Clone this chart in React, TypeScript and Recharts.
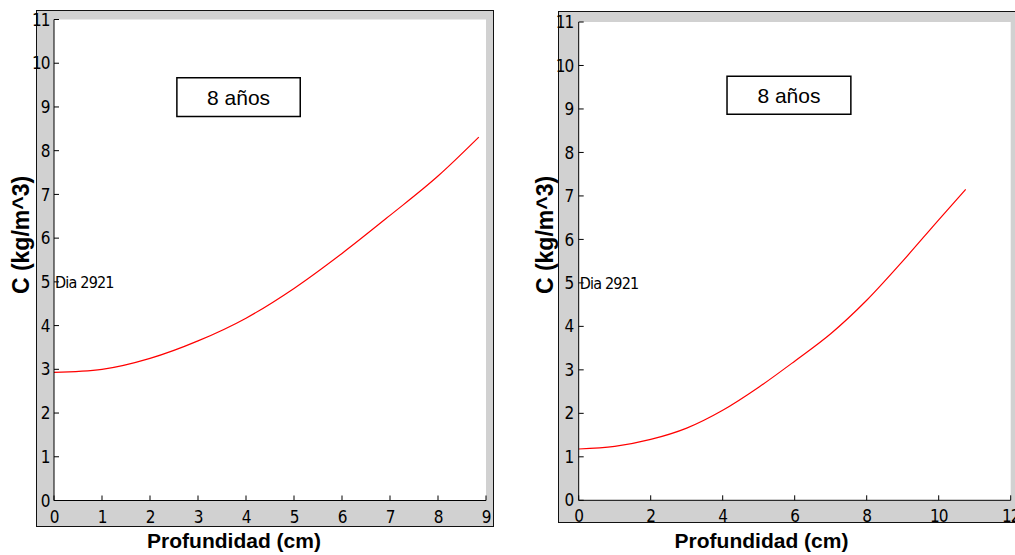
import { LineChart, Line, XAxis, YAxis, CartesianGrid, ReferenceArea, ReferenceDot } from 'recharts';

// depth (cm) and concentration (kg/m^3)
const leftDepth = [0, 1, 2, 3, 4, 5, 6, 7, 8, 8.85];
const leftConc = [2.93, 3.0, 3.25, 3.65, 4.17, 4.85, 5.65, 6.52, 7.42, 8.31];
const rightDepth = [0, 1, 2, 3, 4, 5, 6, 7, 8, 9, 10, 10.75];
const rightConc = [1.18, 1.24, 1.4, 1.66, 2.07, 2.6, 3.2, 3.83, 4.6, 5.5, 6.45, 7.15];

const leftXTicks = [0, 1, 2, 3, 4, 5, 6, 7, 8, 9];
const rightXTicks = [0, 2, 4, 6, 8, 10, 12];
const yTicks = [0, 1, 2, 3, 4, 5, 6, 7, 8, 9, 10, 11];

const boxLabel = '8 años';
const dayLabel = 'Dia 2921';
const xTitle = 'Profundidad (cm)';
const yTitle = 'C (kg/m^3)';

const tickFont = "'Liberation Sans Narrow', 'Arial Narrow', 'DejaVu Sans Condensed', sans-serif";
const textFont = "'Liberation Sans', Arial, sans-serif";

const toRows = (xs: number[], ys: number[]) => xs.map((x, i) => ({ x, c: ys[i] }));

const BottomTick = (props: any) => {
  const { x, y, payload } = props;
  return (
    <g>
      <line x1={x} x2={x} y1={y} y2={y - 5} stroke='#000' />
      <text x={x} y={y + 22} textAnchor='middle' fontSize={17} letterSpacing={-1} fontFamily={tickFont} fill='#000'>
        {payload.value}
      </text>
    </g>
  );
};

const LeftTick = (props: any) => {
  const { x, y, payload, gap } = props;
  return (
    <g>
      <line x1={x} x2={x + 5} y1={y} y2={y} stroke='#000' />
      <text x={x - gap} y={y} dy='0.36em' textAnchor='end' fontSize={17} letterSpacing={-1} fontFamily={tickFont} fill='#000'>
        {payload.value}
      </text>
    </g>
  );
};

const XTitle = (props: any) => (
  <text x={props.cx} y={props.baseline} textAnchor='middle' fontSize={21} fontWeight='bold' fontFamily={textFont} fill='#000'>
    {xTitle}
  </text>
);

const YTitle = (props: any) => (
  <text
    x={props.cx}
    y={props.cy}
    transform={`rotate(-90, ${props.cx}, ${props.cy})`}
    textAnchor='middle'
    dominantBaseline='central'
    fontSize={23}
    fontWeight='bold'
    fontFamily={textFont}
    fill='#000'
  >
    {yTitle}
  </text>
);

type PanelProps = {
  left: number;
  width: number;
  rows: { x: number; c: number }[];
  xMax: number;
  xTicks: number[];
  margin: { top: number; right: number };
  yAxisWidth: number;
  xAxisHeight: number;
  gap: number;
  frame: { left: number; top: number; width: number; height: number };
  box: { x1: number; x2: number; y1: number; y2: number };
  yTitleX: number;
  xTitleX: number;
};

const Panel = (p: PanelProps) => (
  <div style={{ position: 'absolute', left: p.left, top: 0, width: p.width, height: 555 }}>
    <div
      style={{
        position: 'absolute',
        left: p.frame.left,
        top: p.frame.top,
        width: p.frame.width,
        height: p.frame.height,
        background: '#d1d1d1',
        border: '1.5px solid #111',
        boxSizing: 'border-box',
      }}
    />
    <div style={{ position: 'absolute', left: 0, top: 0 }}>
      <LineChart width={p.width} height={555} data={p.rows} margin={{ top: p.margin.top, right: p.margin.right, bottom: 0, left: 0 }}>
        <CartesianGrid fill='#fff' horizontal={false} vertical={false} />
        <XAxis
          dataKey='x'
          type='number'
          domain={[0, p.xMax]}
          ticks={p.xTicks}
          interval={0}
          allowDataOverflow
          height={p.xAxisHeight}
          tickSize={0}
          tickMargin={0}
          tickLine={false}
          axisLine={{ stroke: '#000' }}
          tick={<BottomTick />}
          label={<XTitle cx={p.xTitleX} baseline={548} />}
        />
        <XAxis
          xAxisId='top'
          orientation='top'
          mirror
          type='number'
          domain={[0, p.xMax]}
          ticks={p.xTicks}
          interval={0}
          allowDataOverflow
          height={0}
          tickSize={5}
          tick={false}
          tickLine={{ stroke: '#000' }}
          axisLine={{ stroke: '#000' }}
        />
        <YAxis
          type='number'
          domain={[0, 11]}
          ticks={yTicks}
          interval={0}
          allowDataOverflow
          width={p.yAxisWidth}
          tickSize={0}
          tickMargin={0}
          tickLine={false}
          axisLine={{ stroke: '#000' }}
          tick={<LeftTick gap={p.gap} />}
          label={<YTitle cx={p.yTitleX} cy={235} />}
        />
        <YAxis
          yAxisId='right'
          orientation='right'
          mirror
          type='number'
          domain={[0, 11]}
          ticks={yTicks}
          interval={0}
          allowDataOverflow
          width={0}
          tickSize={5}
          tick={false}
          tickLine={{ stroke: '#000' }}
          axisLine={{ stroke: '#000' }}
        />
        <ReferenceArea
          x1={p.box.x1}
          x2={p.box.x2}
          y1={p.box.y1}
          y2={p.box.y2}
          fill='#fff'
          fillOpacity={1}
          stroke='#000'
          strokeWidth={1.5}
          label={{ value: boxLabel, position: 'center', fontSize: 21, fill: '#000', fontFamily: textFont }}
        />
        <ReferenceDot
          x={0}
          y={5}
          r={0}
          fill='none'
          stroke='none'
          label={{ value: dayLabel, position: 'right', offset: 1, fontSize: 16, letterSpacing: -0.8, fill: '#000', fontFamily: tickFont }}
        />
        <Line type='monotone' dataKey='c' stroke='#ff0000' strokeWidth={1.2} dot={false} isAnimationActive={false} />
      </LineChart>
    </div>
  </div>
);

const App = () => {
  return (
    <div style={{ position: 'absolute', left: 0, top: 0, width: 1015, height: 555, overflow: 'hidden', background: '#fff' }}>
      <Panel
        left={0}
        width={507}
        rows={toRows(leftDepth, leftConc)}
        xMax={9}
        xTicks={leftXTicks}
        margin={{ top: 19.5, right: 21 }}
        yAxisWidth={54}
        xAxisHeight={54.5}
        gap={4.5}
        frame={{ left: 36, top: 10, width: 458, height: 517 }}
        box={{ x1: 2.56, x2: 5.13, y1: 8.78, y2: 9.67 }}
        yTitleX={21}
        xTitleX={234}
      />
      <Panel
        left={507}
        width={508}
        rows={toRows(rightDepth, rightConc)}
        xMax={12}
        xTicks={rightXTicks}
        margin={{ top: 22, right: 4.3 }}
        yAxisWidth={71.7}
        xAxisHeight={54.7}
        gap={5.5}
        frame={{ left: 51, top: 11, width: 470, height: 512 }}
        box={{ x1: 4.12, x2: 7.56, y1: 8.88, y2: 9.75 }}
        yTitleX={38}
        xTitleX={254.5}
      />
    </div>
  );
};

export default App;
